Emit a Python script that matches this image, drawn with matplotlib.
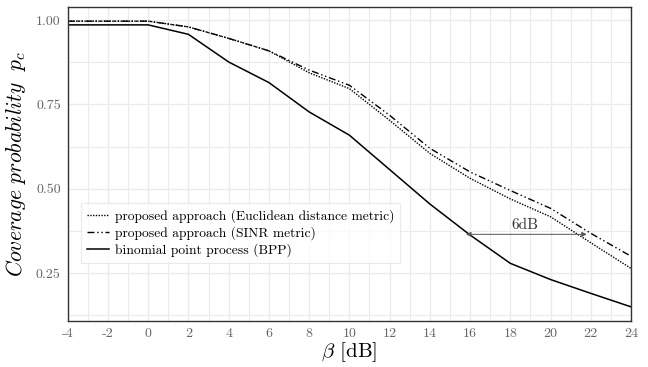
import matplotlib
matplotlib.use('Agg')
import matplotlib.pyplot as plt
from matplotlib.ticker import MultipleLocator

plt.rcParams['font.family'] = ['cmr10', 'DejaVu Serif']
plt.rcParams['mathtext.fontset'] = 'cm'
plt.rcParams['axes.unicode_minus'] = False
plt.rcParams['axes.formatter.use_mathtext'] = False

beta_db = [-4, 0, 2, 4, 6, 8, 10, 12, 14, 16, 18, 20, 22, 24]
p_euclid = [0.997, 0.997, 0.980, 0.946, 0.909, 0.844, 0.797, 0.703, 0.605,
            0.531, 0.470, 0.417, 0.340, 0.264]
p_sinr = [0.997, 0.997, 0.980, 0.946, 0.909, 0.852, 0.807, 0.718, 0.620,
          0.550, 0.495, 0.442, 0.368, 0.300]
p_bpp = [0.986, 0.986, 0.958, 0.876, 0.815, 0.728, 0.659, 0.557, 0.455,
         0.363, 0.279, 0.231, 0.190, 0.150]

labels = ['proposed approach (Euclidean distance metric)',
          'proposed approach (SINR metric)',
          'binomial point process (BPP)']

x_ticks = list(range(-4, 25, 2))
y_ticks = [0.25, 0.50, 0.75, 1.00]

# 6dB gap between BPP and the proposed approach
gap_from, gap_to, gap_level = 15.8, 21.8, 0.365

fig = plt.figure(figsize=(6.48, 3.67), dpi=100)
ax = fig.add_axes([0.1045, 0.1253, 0.8693, 0.8547])

ax.plot(beta_db, p_euclid, color='black', lw=1.0, linestyle=(0, (1, 1)), label=labels[0])
ax.plot(beta_db, p_sinr, color='black', lw=1.0, linestyle=(0, (5, 2, 1, 2, 1, 2)), label=labels[1])
ax.plot(beta_db, p_bpp, color='black', lw=1.1, linestyle='-', label=labels[2])

ax.annotate('', xy=(gap_from, gap_level), xytext=(gap_to, gap_level),
            arrowprops=dict(arrowstyle='<|-|>', color='#555555', lw=0.7,
                            mutation_scale=7, shrinkA=0, shrinkB=0))
ax.text(18.7, gap_level + 0.008, '6dB', ha='center', va='bottom',
        fontsize=11, color='#333333')

ax.set_xlim(-4, 24)
ax.set_ylim(0.108, 1.038)
ax.set_xticks(x_ticks)
ax.set_xticklabels([str(t) for t in x_ticks])
ax.set_yticks(y_ticks)
ax.set_yticklabels([f'{t:.2f}' for t in y_ticks])
ax.xaxis.set_minor_locator(MultipleLocator(1))
ax.yaxis.set_minor_locator(MultipleLocator(0.125))

ax.grid(True, which='major', color='#ebebeb', lw=1.0)
ax.grid(True, which='minor', color='#ebebeb', lw=0.8)
ax.set_axisbelow(True)
ax.tick_params(which='both', length=0, labelsize=10, labelcolor='#666666', pad=5)
for s in ax.spines.values():
    s.set_color('#333333')
    s.set_linewidth(1.0)

ax.set_xlabel(r'$\mathcal{\beta}$ [dB]', fontsize=15, labelpad=0)
ax.set_ylabel(r'$\mathit{Coverage\ probability}\ \ p_c$', fontsize=15.5, labelpad=6)

leg = ax.legend(loc='upper left', bbox_to_anchor=(0.012, 0.398), fontsize=9.7,
                frameon=True, fancybox=False, edgecolor='#e5e5e5', handlelength=1.6,
                labelspacing=0.25, borderpad=0.45, handletextpad=0.45)
leg.get_frame().set_linewidth(0.8)

fig.savefig('out.png', dpi=100)
